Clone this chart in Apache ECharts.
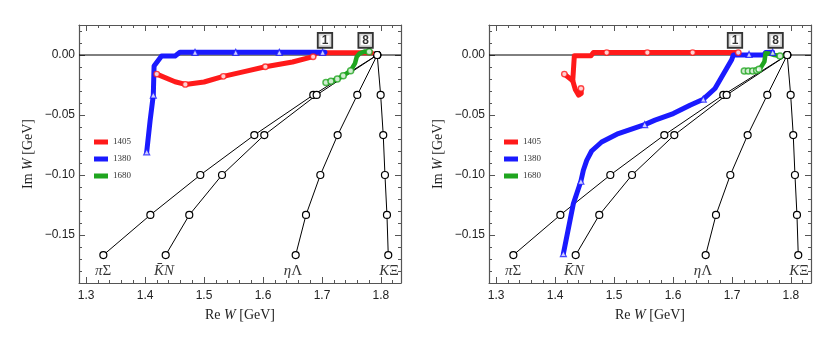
<!DOCTYPE html>
<html><head><meta charset="utf-8">
<script src="https://cdn.jsdelivr.net/npm/echarts@6/dist/echarts.min.js"></script>
<style>html,body{margin:0;padding:0;background:#fff}#c{width:830px;height:342px}</style>
</head><body><div id="c"></div>
<script>
// ---- data ----
const xTicks = [1.3, 1.4, 1.5, 1.6, 1.7, 1.8];
const xMinorTicks = [1.32,1.34,1.36,1.38,1.42,1.44,1.46,1.48,1.52,1.54,1.56,1.58,1.62,1.64,1.66,1.68,1.72,1.74,1.76,1.78,1.82];
const yTicks = [-0.15, -0.10, -0.05, 0.00];
const yMinorTicks = [-0.19,-0.18,-0.17,-0.16,-0.14,-0.13,-0.12,-0.11,-0.09,-0.08,-0.07,-0.06,-0.04,-0.03,-0.02,-0.01,0.01,0.02];
const thrY = [-0.1667, -0.1333, -0.1000, -0.0667, -0.0333, 0.0];
const piSigmaX = [1.3293, 1.4090, 1.4937, 1.5853, 1.6853, 1.7937];
const kbarNX = [1.4350, 1.4750, 1.5305, 1.6022, 1.6910, 1.7937];
const etaLambdaX = [1.6554, 1.6729, 1.6972, 1.7266, 1.7599, 1.7937];
const kXiX = [1.8124, 1.8102, 1.8068, 1.8039, 1.7995, 1.7937];
const thrNames = ['{i|π}{u|Σ}', '{i|K\u0304N}', '{i|η}{u|Λ}', '{i|K}{u|Ξ}'];
const thrLabelX = [1.3288, 1.4322, 1.6508, 1.8136];
const thrLabelY = -0.1798;
const boxText = ['1', '8'];
const boxX = [1.7051, 1.7740];
const boxY = 0.0122;
const legendNames = ['1405', '1380', '1680'];

// left panel
const red1405L = [[1.4198,-0.0159],[1.4508,-0.0223],[1.4683,-0.0245],[1.5000,-0.0225],[1.5328,-0.0178],[1.5700,-0.0136],[1.6040,-0.0098],[1.6500,-0.0058],[1.6850,-0.0014],[1.6890,0.0018],[1.7840,0.0018]];
const red1405LMarks = [[1.4198,-0.0159],[1.4683,-0.0245],[1.5328,-0.0178],[1.6040,-0.0098],[1.6850,-0.0014]];
const blue1380L = [[1.4028,-0.0808],[1.4085,-0.0550],[1.4140,-0.0334],[1.4153,-0.0092],[1.4280,-0.0008],[1.4510,-0.0008],[1.4590,0.0022],[1.7050,0.0022]];
const blue1380LMarks = [[1.4028,-0.0808],[1.4140,-0.0334],[1.4847,0.0022],[1.5537,0.0022],[1.6277,0.0022],[1.7011,0.0022]];
const green1680L = [[1.7068,-0.0229],[1.7153,-0.0218],[1.7260,-0.0201],[1.7360,-0.0173],[1.7486,-0.0131],[1.7560,-0.0070],[1.7590,-0.0014],[1.7640,0.0014],[1.7730,0.0030],[1.7800,0.0028]];
const green1680LMarks = [[1.7068,-0.0229],[1.7153,-0.0218],[1.7260,-0.0201],[1.7360,-0.0173],[1.7486,-0.0131],[1.7800,0.0028]];

// right panel
const red1405R = [[1.4158,-0.0159],[1.4300,-0.0215],[1.4327,-0.0006],[1.4610,-0.0006],[1.4650,0.0020],[1.7107,0.0020]];
const red1405RLoop = [[1.4300,-0.0215],[1.4345,-0.0290],[1.4400,-0.0335],[1.4445,-0.0320],[1.4440,-0.0279]];
const red1405RMarks = [[1.4158,-0.0159],[1.4440,-0.0279],[1.4876,0.0020],[1.5565,0.0020],[1.6333,0.0020],[1.7107,0.0020]];
const blue1380R = [[1.7690,0.0022],[1.7570,0.0020],[1.7540,0.0000],[1.7290,0.0000],[1.7023,0.0000],[1.6995,-0.0040],[1.6712,-0.0279],[1.6514,-0.0368],[1.6288,-0.0418],[1.6005,-0.0488],[1.5695,-0.0543],[1.5520,-0.0580],[1.5073,-0.0655],[1.4790,-0.0725],[1.4620,-0.0800],[1.4537,-0.0878],[1.4480,-0.0960],[1.4438,-0.1052],[1.4310,-0.1240],[1.4141,-0.1656]];
const blue1380RMarks = [[1.7690,0.0022],[1.7290,0.0005],[1.6514,-0.0368],[1.5520,-0.0580],[1.4438,-0.1052],[1.4141,-0.1656]];
const green1680R = [[1.7209,-0.0134],[1.7277,-0.0134],[1.7351,-0.0134],[1.7419,-0.0130],[1.7458,-0.0118],[1.7500,-0.0095],[1.7550,-0.0055],[1.7570,0.0015],[1.7650,0.0010],[1.7720,0.0000],[1.7814,-0.0008]];
const green1680RMarks = [[1.7209,-0.0134],[1.7277,-0.0134],[1.7351,-0.0134],[1.7419,-0.0130],[1.7458,-0.0118],[1.7814,-0.0008]];

// ---- chart ----
const xMin = 1.288, xMax = 1.834, yMin = -0.19, yMax = 0.025;
const RED = '#ff1a1a', BLUE = '#1a1aff', GREEN = '#1fa51f';
const SERIF = 'Liberation Serif';
const SANS = 'Liberation Sans';
const frame = '#555';

const chart = echarts.init(document.getElementById('c'), null, {renderer: 'canvas'});

const nameStyle = {fontFamily: SERIF, fontSize: 14, color: '#222',
  rich: {i: {fontStyle: 'italic', fontFamily: SERIF, fontSize: 14, color: '#222'}}};

function xAx(g, pos, minor) {
  const main = pos === 'bottom' && !minor;
  return {
    type: 'value', gridIndex: g, position: pos, min: xMin, max: xMax,
    axisLine: {show: !minor, onZero: false, lineStyle: {color: frame, width: 1.2}},
    axisTick: {show: true, inside: true, length: minor ? 3 : 6, customValues: minor ? xMinorTicks : xTicks, lineStyle: {color: frame}},
    minorTick: {show: false},
    splitLine: {show: false},
    axisLabel: {show: main, margin: 7, fontFamily: SANS, fontSize: 12, color: '#222',
      customValues: xTicks, formatter: v => v.toFixed(1)},
    name: main ? 'Re {i|W} [GeV]' : '', nameLocation: 'middle', nameGap: 25,
    nameTextStyle: nameStyle
  };
}
function yAx(g, pos, minor) {
  const main = pos === 'left' && !minor;
  return {
    type: 'value', gridIndex: g, position: pos, min: yMin, max: yMax,
    axisLine: {show: !minor, onZero: false, lineStyle: {color: frame, width: 1.2}},
    axisTick: {show: true, inside: true, length: minor ? 3 : 6, customValues: minor ? yMinorTicks : yTicks, lineStyle: {color: frame}},
    minorTick: {show: false},
    splitLine: {show: false},
    axisLabel: {show: main, margin: 4, fontFamily: SANS, fontSize: 12, color: '#222',
      customValues: yTicks, formatter: v => (v < -1e-9 ? '\u2212' : '') + Math.abs(v).toFixed(2)},
    name: main ? 'Im {i|W} [GeV]' : '', nameLocation: 'middle', nameGap: 44, nameRotate: 90,
    nameTextStyle: nameStyle
  };
}

const series = [];
function addPanel(g, red, redExtra, redMk, blue, blueMk, green, greenMk) {
  const ax = {xAxisIndex: 4 * g, yAxisIndex: 4 * g};
  series.push(Object.assign({type: 'line', data: [[xMin, 0], [xMax, 0]], symbol: 'none', silent: true,
    lineStyle: {color: '#000', width: 1}, z: 1}, ax));
  [piSigmaX, kbarNX, etaLambdaX, kXiX].forEach(xs => {
    series.push(Object.assign({type: 'line', data: xs.map((x, i) => [x, thrY[i]]), symbol: 'circle', symbolSize: 7,
      itemStyle: {color: '#fff', borderColor: '#000', borderWidth: 1.2}, lineStyle: {color: '#000', width: 1}, z: 2}, ax));
  });
  series.push(Object.assign({type: 'scatter', data: thrLabelX.map((x, i) => ({value: [x, thrLabelY], nm: thrNames[i]})),
    symbolSize: 0, silent: true, z: 3,
    label: {show: true, position: 'inside', formatter: p => p.data.nm, color: '#000',
      rich: {i: {fontStyle: 'italic', fontFamily: SERIF, fontSize: 15, color: '#000'}, u: {fontFamily: SERIF, fontSize: 15, color: '#000'}}}}, ax));
  const thick = (name, data, color, w, z) => Object.assign({type: 'line', name, data, symbol: 'none', z,
    itemStyle: {color}, lineStyle: {color, width: w, join: 'round', cap: 'round'}}, ax);
  series.push(thick('1405', red, RED, 5, 5));
  if (redExtra) series.push(thick('1405', redExtra, RED, 5, 5));
  series.push(thick('1380', blue, BLUE, 5, 6));
  series.push(thick('1680', green, GREEN, 4.5, 7));
  series.push(Object.assign({type: 'scatter', name: 'm1405', data: redMk, symbol: 'circle', symbolSize: 5.5, z: 8,
    itemStyle: {color: '#fff', borderColor: RED, borderWidth: 1.4}}, ax));
  series.push(Object.assign({type: 'scatter', name: 'm1380', data: blueMk, symbol: 'triangle', symbolSize: 6, z: 8,
    itemStyle: {color: '#fff', borderColor: BLUE, borderWidth: 1.2}}, ax));
  series.push(Object.assign({type: 'scatter', name: 'm1680', data: greenMk, symbol: 'circle', symbolSize: 6, z: 9,
    itemStyle: {color: '#fff', borderColor: GREEN, borderWidth: 1.5}}, ax));
  series.push(Object.assign({type: 'scatter', data: boxX.map((x, i) => ({value: [x, boxY], t: boxText[i]})),
    symbolSize: 0, silent: true, z: 10,
    label: {show: true, position: 'inside', formatter: p => p.data.t, fontFamily: SANS, fontWeight: 'bold', fontSize: 12,
      color: '#000', backgroundColor: '#fff', borderColor: '#000', borderWidth: 1.8, padding: [1, 3, 0, 3], lineHeight: 12}}, ax));
}
addPanel(0, red1405L, null, red1405LMarks, blue1380L, blue1380LMarks, green1680L, green1680LMarks);
addPanel(1, red1405R, red1405RLoop, red1405RMarks, blue1380R, blue1380RMarks, green1680R, green1680RMarks);

const legendBase = {orient: 'vertical', top: 132, icon: 'rect', itemWidth: 14, itemHeight: 5, itemGap: 7,
  selectedMode: false, data: legendNames,
  textStyle: {fontFamily: SERIF, fontSize: 9, color: '#333', lineHeight: 10}};

chart.setOption({
  animation: false,
  backgroundColor: '#fff',
  grid: [{left: 79, top: 25, width: 322, height: 258}, {left: 489, top: 25, width: 322, height: 258}],
  xAxis: [xAx(0, 'bottom'), xAx(0, 'bottom', true), xAx(0, 'top'), xAx(0, 'top', true),
          xAx(1, 'bottom'), xAx(1, 'bottom', true), xAx(1, 'top'), xAx(1, 'top', true)],
  yAxis: [yAx(0, 'left'), yAx(0, 'left', true), yAx(0, 'right'), yAx(0, 'right', true),
          yAx(1, 'left'), yAx(1, 'left', true), yAx(1, 'right'), yAx(1, 'right', true)],
  legend: [Object.assign({left: 89}, legendBase), Object.assign({left: 499}, legendBase)],
  series
});
</script></body></html>
